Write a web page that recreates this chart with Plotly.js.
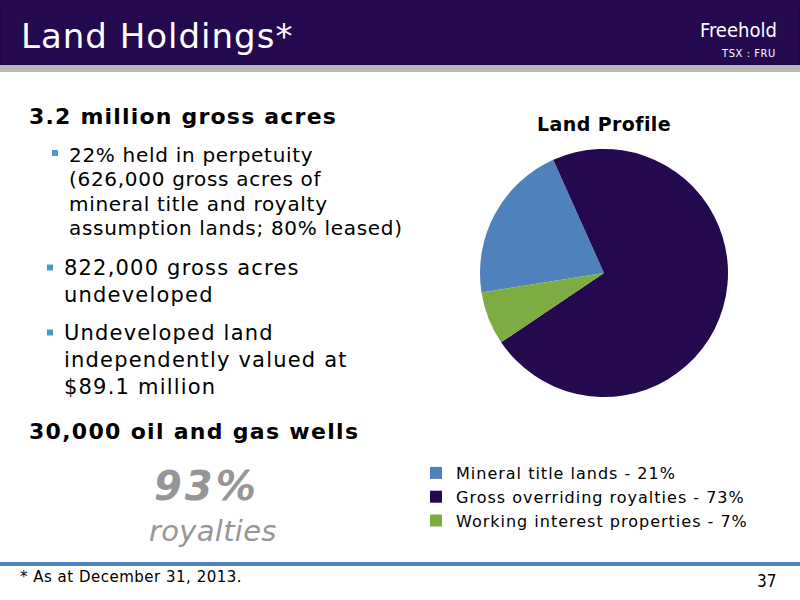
<!DOCTYPE html>
<html>
<head>
<meta charset="utf-8">
<script src="https://cdn.plot.ly/plotly-3.0.1.min.js"></script>
<style>
html,body{margin:0;padding:0;background:#fff;}
#chart{width:800px;height:600px;}
.legendtext{letter-spacing:1px;}
.gtitle{letter-spacing:0.4px;}
</style>
</head>
<body>
<div id="chart"></div>
<script>
// Data
const sliceLabels = ["Mineral title lands - 21%", "Gross overriding royalties - 73%", "Working interest properties - 7%"];
const sliceValues = [21, 73, 7];
const sliceColors = ["#4f81bd", "#24094f", "#7fac42"];

const slideTitle = "Land Holdings*";
const chartTitle = "Land Profile";
const bulletLines = [
  ["22% held in perpetuity", "(626,000 gross acres of", "mineral title and royalty", "assumption lands; 80% leased)"],
  ["822,000 gross acres", "undeveloped"],
  ["Undeveloped land", "independently valued at", "$89.1 million"]
];

const W = 800, H = 600;
const px = x => x / W;
const py = y => 1 - y / H;
const FONT = "DejaVu Sans, Verdana, sans-serif";
const NARROW = "Liberation Sans Narrow, DejaVu Sans Condensed, sans-serif";

const trace = {
  type: "pie",
  labels: sliceLabels,
  values: sliceValues,
  marker: {colors: sliceColors, line: {width: 0}},
  sort: false,
  direction: "clockwise",
  rotation: 261,
  textinfo: "none",
  hoverinfo: "label",
  domain: {x: [px(480), px(728)], y: [py(397), py(149)]},
  showlegend: true
};

const shapes = [
  {type: "rect", xref: "paper", yref: "paper", x0: 0, x1: 1, y0: py(65), y1: 1, fillcolor: "#24094f", line: {color: "#1a0640", width: 1}, layer: "below"},
  {type: "rect", xref: "paper", yref: "paper", x0: 0, x1: 1, y0: py(72), y1: py(65), fillcolor: "#b8b8b8", line: {width: 0}, layer: "below"},
  {type: "rect", xref: "paper", yref: "paper", x0: 0, x1: 1, y0: py(566), y1: py(562), fillcolor: "#4f81bd", line: {width: 0}, layer: "below"}
];

const annotations = [];
const spacings = [];
function txt(text, x, y, size, color, family, spacing, anchor) {
  annotations.push({
    text: text, xref: "paper", yref: "paper", x: px(x), y: py(y),
    xanchor: anchor || "left", yanchor: "middle", align: "left", showarrow: false,
    font: {family: family || FONT, size: size, color: color || "#000"}
  });
  spacings.push(spacing || 0);
}
// header
txt(slideTitle, 19, 36, 34, "#ffffff", FONT, 1);
txt("Freehold", 698, 30, 20, "#ffffff", NARROW, 0);
txt("TSX : FRU", 719, 54, 11, "#ffffff", NARROW, 0.6);
// left text
txt("<b>3.2 million gross acres</b>", 27, 116, 22, "#000", FONT, 1.2);
const bulletStartY = [155, 268, 333];
const bulletSpacing = [24.3, 27, 27];
const bulletSize = [20, 21, 21];
const bulletLS = [0.7, 1.2, 1.2];
const bulletX = [52, 47, 47];
const bulletCY = [153, 267.5, 332.5];
const textX = [67, 62, 62];
bulletLines.forEach((lines, i) => {
  shapes.push({type: "rect", xref: "paper", yref: "paper", x0: px(bulletX[i]), x1: px(bulletX[i] + 6), y0: py(bulletCY[i] + 3), y1: py(bulletCY[i] - 3), fillcolor: "#4a9bc4", line: {width: 0}});
  lines.forEach((l, j) => txt(l, textX[i], bulletStartY[i] + j * bulletSpacing[i], bulletSize[i], "#000", FONT, bulletLS[i]));
});
txt("<b>30,000 oil and gas wells</b>", 27, 431, 22, "#000", FONT, 1.3);
txt("<b><i>93%</i></b>", 152, 486, 40, "#969696", FONT, 3);
txt("<i>royalties</i>", 147, 531, 29, "#969696", FONT, 0.3);
// footer
txt("* As at December 31, 2013.", 18, 577, 15, "#000", FONT, 0.5);
txt("37", 755, 581, 17, "#000", "DejaVu Sans Condensed, sans-serif", 0);

// per-annotation letter spacing
const css = spacings.map((s, i) => s ? `g.annotation[data-index="${i}"] text{letter-spacing:${s}px;}` : "").join("\n");
const st = document.createElement("style");
st.textContent = css;
document.head.appendChild(st);

const layout = {
  width: W, height: H,
  margin: {l: 0, r: 0, t: 0, b: 0},
  paper_bgcolor: "#ffffff",
  title: {text: "<b>" + chartTitle + "</b>", font: {family: FONT, size: 19, color: "#000"}, x: px(604), xanchor: "center", y: py(124), yanchor: "middle"},
  showlegend: true,
  legend: {
    x: px(416), y: py(456), xanchor: "left", yanchor: "top",
    font: {family: FONT, size: 16, color: "#000"},
    itemwidth: 30, bgcolor: "rgba(0,0,0,0)", traceorder: "normal"
  },
  shapes: shapes,
  annotations: annotations
};

Plotly.newPlot("chart", [trace], layout, {displayModeBar: false, staticPlot: true});
</script>
</body>
</html>
